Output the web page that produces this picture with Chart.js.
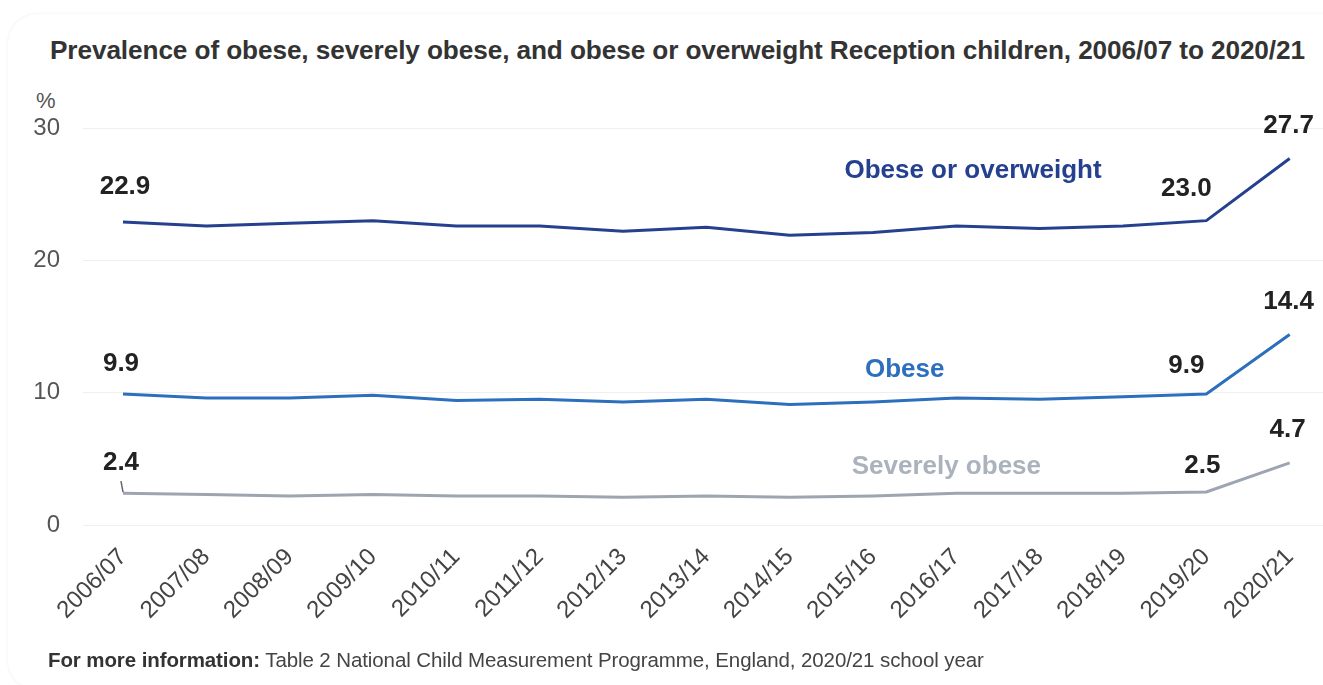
<!DOCTYPE html>
<html>
<head>
<meta charset="utf-8">
<script src="https://cdn.jsdelivr.net/npm/chart.js@4"></script>
<style>
  body { margin: 0; background: #fff; font-family: "Liberation Sans", Arial, sans-serif; }
  #wrap { position: relative; width: 1323px; height: 685px; overflow: hidden; }
  #card { position: absolute; left: 8px; top: 14px; width: 1360px; height: 676px; border-radius: 30px;
          box-shadow: 0 0 3px rgba(140, 170, 180, 0.22); }
  #title { position: absolute; left: 50px; top: 35px; font-weight: bold; font-size: 26.2px; color: #333;
           white-space: nowrap; letter-spacing: -0.1px; }
  #unit { position: absolute; left: 36px; top: 88px; font-size: 22px; color: #555; }
  #footer { position: absolute; left: 48px; top: 648px; font-size: 20.5px; color: #444; white-space: nowrap; letter-spacing: -0.1px; }
  #footer b { color: #333; }
  canvas { position: absolute; left: 0; top: 0; }
</style>
</head>
<body>
<div id="wrap">
  <div id="card"></div>
  <div id="title">Prevalence of obese, severely obese, and obese or overweight Reception children, 2006/07 to 2020/21</div>
  <div id="unit">%</div>
  <canvas id="chart" width="1323" height="685"></canvas>
  <div id="footer"><b>For more information:</b> Table 2 National Child Measurement Programme, England, 2020/21 school year</div>
</div>
<script>
// Data
const years = ['2006/07', '2007/08', '2008/09', '2009/10', '2010/11', '2011/12', '2012/13', '2013/14',
               '2014/15', '2015/16', '2016/17', '2017/18', '2018/19', '2019/20', '2020/21'];
const overweightOrObese = [22.9, 22.6, 22.8, 23.0, 22.6, 22.6, 22.2, 22.5, 21.9, 22.1, 22.6, 22.4, 22.6, 23.0, 27.7];
const obese = [9.9, 9.6, 9.6, 9.8, 9.4, 9.5, 9.3, 9.5, 9.1, 9.3, 9.6, 9.5, 9.7, 9.9, 14.4];
const severelyObese = [2.4, 2.3, 2.2, 2.3, 2.2, 2.2, 2.1, 2.2, 2.1, 2.2, 2.4, 2.4, 2.4, 2.5, 4.7];
const yTicks = [0, 10, 20, 30];

const toPoints = arr => arr.map((v, i) => ({ x: i, y: v }));

// Value labels at start, 2019/20 and 2020/21 (dx, dy are pixel nudges)
const valueLabels = [
    { ds: 0, i: 0, dx: 2, dy: -35 }, { ds: 0, i: 13, dx: -20, dy: -32 }, { ds: 0, i: 14, dx: -1, dy: -33 },
    { ds: 1, i: 0, dx: -2, dy: -30 }, { ds: 1, i: 13, dx: -20, dy: -28 }, { ds: 1, i: 14, dx: -1, dy: -33 },
    { ds: 2, i: 0, dx: -2, dy: -30, leader: true }, { ds: 2, i: 13, dx: -4, dy: -26 }, { ds: 2, i: 14, dx: -2, dy: -33 }
];

// Inline series names, placed in data coordinates
const seriesNames = [
    { text: 'Obese or overweight', x: 10.2, y: 26.8, color: '#24408f' },
    { text: 'Obese', x: 9.38, y: 11.7, color: '#2c6fbd' },
    { text: 'Severely obese', x: 9.88, y: 4.4, color: '#aab2bc' }
];

const labelsPlugin = {
    id: 'labels',
    afterDatasetsDraw(chart) {
        const { ctx, scales } = chart;
        ctx.save();
        ctx.textAlign = 'center';
        ctx.textBaseline = 'middle';
        ctx.font = 'bold 26px "Liberation Sans", Arial, sans-serif';
        valueLabels.forEach(l => {
            const v = chart.data.datasets[l.ds].data[l.i];
            const x0 = scales.x.getPixelForValue(v.x);
            const y0 = scales.y.getPixelForValue(v.y);
            if (l.leader) {
                ctx.strokeStyle = '#666';
                ctx.lineWidth = 1.5;
                ctx.beginPath();
                ctx.moveTo(x0 - 2, y0 - 12);
                ctx.lineTo(x0, y0 - 1);
                ctx.stroke();
            }
            ctx.fillStyle = '#222';
            ctx.fillText(v.y.toFixed(1), x0 + l.dx, y0 + l.dy);
        });
        seriesNames.forEach(s => {
            ctx.fillStyle = s.color;
            ctx.fillText(s.text, scales.x.getPixelForValue(s.x), scales.y.getPixelForValue(s.y));
        });
        ctx.restore();
    }
};

const ctx = document.getElementById('chart').getContext('2d');
new Chart(ctx, {
    type: 'line',
    data: {
        datasets: [
            { label: 'Obese or overweight', data: toPoints(overweightOrObese), borderColor: '#24408f' },
            { label: 'Obese', data: toPoints(obese), borderColor: '#2c6fbd' },
            { label: 'Severely obese', data: toPoints(severelyObese), borderColor: '#9ca5b0' }
        ]
    },
    options: {
        responsive: false,
        animation: false,
        layout: { padding: { top: 128, bottom: 60, left: 0, right: 0 } },
        elements: {
            line: { borderWidth: 3, tension: 0 },
            point: { radius: 0 }
        },
        plugins: {
            legend: { display: false },
            tooltip: { enabled: false }
        },
        scales: {
            x: {
                type: 'linear',
                min: -0.48,
                max: 14.4,
                afterBuildTicks: axis => { axis.ticks = years.map((_, i) => ({ value: i })); },
                afterFit: axis => { axis.height = 100; },
                grid: { display: false },
                border: { display: false },
                ticks: {
                    autoSkip: false,
                    minRotation: 45,
                    maxRotation: 45,
                    padding: 10,
                    color: '#444',
                    font: { family: '"Liberation Sans", Arial, sans-serif', size: 24 },
                    callback: value => years[value]
                }
            },
            y: {
                min: 0,
                max: 30,
                afterBuildTicks: axis => { axis.ticks = yTicks.map(v => ({ value: v })); },
                afterFit: axis => { axis.width = 83; },
                grid: { color: '#efefef', lineWidth: 1, drawTicks: false },
                border: { display: false },
                ticks: {
                    padding: 23,
                    color: '#555',
                    font: { family: '"Liberation Sans", Arial, sans-serif', size: 24 }
                }
            }
        }
    },
    plugins: [labelsPlugin]
});
</script>
</body>
</html>
